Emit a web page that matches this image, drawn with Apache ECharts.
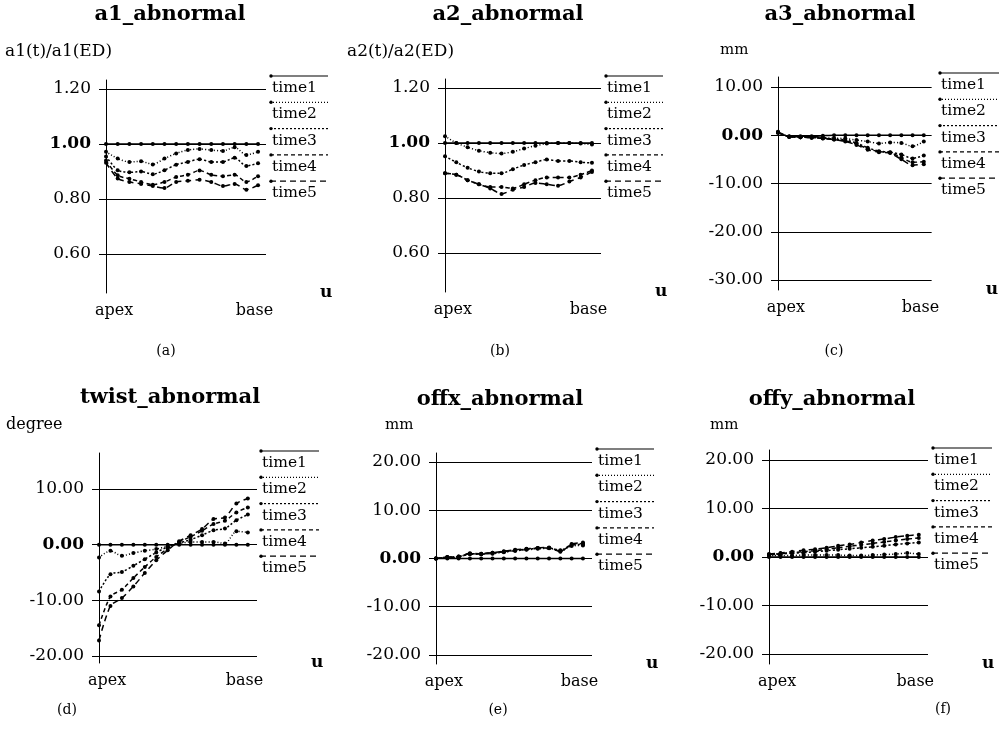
<!DOCTYPE html>
<html>
<head>
<meta charset="utf-8">
<title>abnormal</title>
<script src="https://cdn.jsdelivr.net/npm/echarts@6/dist/echarts.min.js"></script>
<style>
    html, body { margin: 0; background: #fff; }
    #main { width: 999px; height: 731px; }
</style>
</head>
<body>
<div id="main"></div>
<script type="text/javascript">

    // position along the centre line, apex -> base
    var uIndex = [0, 1, 2, 3, 4, 5, 6, 7, 8, 9, 10, 11, 12, 13];
    var timeNames = ['time1', 'time2', 'time3', 'time4', 'time5'];
    var xLabels = ['apex', 'base'];

    // tick labels
    var ratioTicks = [0.60, 0.80, 1.00, 1.20];
    var a3Ticks = [-30, -20, -10, 0, 10];
    var twistTicks = [-20, -10, 0, 10];
    var offTicks = [-20, -10, 0, 10, 20];

    // values (time1 .. time5)
    var a1Values = [
        [1.00, 1.00, 1.00, 1.00, 1.00, 1.00, 1.00, 1.00, 1.00, 1.00, 1.00, 1.00, 1.00, 1.00],
        [0.972, 0.947, 0.935, 0.937, 0.926, 0.947, 0.966, 0.978, 0.982, 0.978, 0.975, 0.988, 0.960, 0.972],
        [0.955, 0.905, 0.897, 0.900, 0.890, 0.905, 0.925, 0.935, 0.945, 0.935, 0.935, 0.950, 0.920, 0.930],
        [0.940, 0.886, 0.874, 0.862, 0.852, 0.862, 0.880, 0.888, 0.904, 0.888, 0.883, 0.888, 0.862, 0.883],
        [0.932, 0.875, 0.862, 0.855, 0.847, 0.840, 0.862, 0.866, 0.870, 0.862, 0.847, 0.855, 0.834, 0.850]
    ];
    var a2Values = [
        [1.00, 1.00, 1.00, 1.00, 1.00, 1.00, 1.00, 1.00, 1.00, 1.00, 1.00, 1.00, 1.00, 1.00],
        [1.025, 1.000, 0.985, 0.972, 0.965, 0.962, 0.968, 0.980, 0.990, 0.998, 1.000, 1.000, 0.998, 0.995],
        [0.952, 0.930, 0.910, 0.896, 0.890, 0.890, 0.905, 0.920, 0.930, 0.940, 0.935, 0.935, 0.930, 0.928],
        [0.890, 0.885, 0.865, 0.850, 0.840, 0.840, 0.835, 0.850, 0.865, 0.875, 0.875, 0.875, 0.885, 0.900],
        [0.890, 0.885, 0.865, 0.850, 0.835, 0.815, 0.830, 0.840, 0.855, 0.850, 0.845, 0.860, 0.875, 0.895]
    ];
    var a3Values = [
        [0.5, -0.2, -0.2, -0.2, -0.1, 0, 0, 0, 0, 0, 0, 0, 0, 0],
        [0.5, -0.3, -0.4, -0.4, -0.5, -0.6, -0.7, -1.0, -1.3, -1.7, -1.5, -1.6, -2.3, -1.3],
        [0.6, -0.3, -0.4, -0.4, -0.6, -0.8, -1.0, -1.6, -2.6, -3.3, -3.5, -4.0, -4.8, -4.2],
        [0.6, -0.3, -0.4, -0.5, -0.6, -0.9, -1.2, -1.8, -2.8, -3.4, -3.6, -4.6, -5.6, -5.5],
        [0.7, -0.3, -0.4, -0.5, -0.7, -0.9, -1.3, -2.0, -3.0, -3.5, -3.7, -5.0, -6.2, -6.0]
    ];
    var twistValues = [
        [0, 0, 0, 0, 0, 0, 0, 0, 0, 0, 0, 0, 0, 0],
        [-2.3, -1.1, -2.0, -1.5, -1.1, -0.8, -0.3, 0.2, 0.5, 0.5, 0.5, 0.2, 2.4, 2.2],
        [-8.4, -5.3, -4.9, -3.8, -2.6, -1.4, -0.4, 0.3, 0.9, 1.7, 2.6, 2.9, 4.4, 5.4],
        [-14.5, -9.3, -8.1, -6.0, -4.0, -2.2, -0.7, 0.5, 1.4, 2.5, 3.7, 4.3, 5.8, 6.7],
        [-17.2, -11.0, -9.6, -7.5, -5.1, -2.8, -1.0, 0.6, 1.7, 2.8, 4.6, 4.9, 7.4, 8.3]
    ];
    var offxValues = [
        [0, 0, 0, 0, 0, 0, 0, 0, 0, 0, 0, 0, 0, 0],
        [0, 0.2, 0.3, 1.0, 0.9, 1.0, 1.3, 1.6, 1.8, 2.0, 2.1, 1.6, 2.6, 2.7],
        [0, 0.2, 0.3, 0.9, 0.9, 1.1, 1.4, 1.6, 1.9, 2.1, 2.2, 1.7, 2.8, 2.9],
        [0, 0.3, 0.4, 1.0, 1.0, 1.2, 1.4, 1.7, 1.9, 2.2, 2.3, 1.5, 2.9, 3.1],
        [0, 0.3, 0.4, 1.1, 1.0, 1.2, 1.5, 1.8, 2.0, 2.2, 2.2, 1.4, 3.0, 3.3]
    ];
    var offyValues = [
        [0, 0, 0, 0, 0, 0, 0, 0, 0, 0, 0, 0, 0, 0],
        [0.3, 0.3, 0.3, 0.4, 0.4, 0.4, 0.4, 0.3, 0.3, 0.4, 0.5, 0.6, 0.8, 0.6],
        [0.4, 0.6, 0.8, 0.9, 1.1, 1.3, 1.5, 1.7, 1.9, 2.1, 2.3, 2.6, 2.8, 3.0],
        [0.5, 0.7, 0.9, 1.1, 1.3, 1.6, 1.9, 2.2, 2.5, 2.8, 3.1, 3.4, 3.7, 3.9],
        [0.6, 0.8, 1.1, 1.4, 1.6, 1.9, 2.3, 2.6, 3.0, 3.4, 3.7, 4.1, 4.4, 4.6]
    ];

    var FONT = 'DejaVu Serif';
    var dashes = ['solid', [1, 2], [2, 2], [4, 3], [6, 4]];

    // 面板布局
    var panels = [
        {title: 'a1_abnormal', yName: 'a1(t)/a1(ED)', letter: '(a)', values: a1Values, ticks: ratioTicks, bold: 1,
            grid: {left: 106, top: 80, width: 160, height: 213}, yMin: 0.458, yMax: 1.233, xMax: 13.68,
            tx: 170, ty: 15, nx: 5, ny: 52, ns: 17, lx: 166, ly: 351, gx0: 270, gx1: 328, gy: 76},
        {title: 'a2_abnormal', yName: 'a2(t)/a2(ED)', letter: '(b)', values: a2Values, ticks: ratioTicks, bold: 1,
            grid: {left: 445, top: 79, width: 156, height: 213}, yMin: 0.458, yMax: 1.233, xMax: 13.8,
            tx: 508, ty: 15, nx: 347, ny: 52, ns: 17, lx: 500, ly: 351, gx0: 605, gx1: 663, gy: 76},
        {title: 'a3_abnormal', yName: 'mm', letter: '(c)', values: a3Values, ticks: a3Ticks, bold: 0,
            grid: {left: 778, top: 77, width: 159, height: 213}, yMin: -32.07, yMax: 12.07, xMax: 13.7,
            tx: 840, ty: 15, nx: 720, ny: 50, ns: 15, lx: 834, ly: 351, gx0: 939, gx1: 999, gy: 73},
        {title: 'twist_abnormal', yName: 'degree', letter: '(d)', values: twistValues, ticks: twistTicks, bold: 0,
            grid: {left: 99, top: 453, width: 158, height: 210}, yMin: -21.26, yMax: 16.47, xMax: 13.8,
            tx: 170, ty: 398, nx: 6, ny: 425, ns: 16, lx: 67, ly: 710, gx0: 260, gx1: 319, gy: 451},
        {title: 'offx_abnormal', yName: 'mm', letter: '(e)', values: offxValues, ticks: offTicks, bold: 0,
            grid: {left: 436, top: 453, width: 156, height: 211}, yMin: -21.87, yMax: 21.87, xMax: 13.8,
            tx: 500, ty: 400, nx: 385, ny: 425, ns: 15, lx: 498, ly: 710, gx0: 596, gx1: 654, gy: 449},
        {title: 'offy_abnormal', yName: 'mm', letter: '(f)', values: offyValues, ticks: offTicks, bold: 0,
            grid: {left: 769, top: 450, width: 159, height: 214}, yMin: -22.06, yMax: 22.06, xMax: 13.8,
            tx: 832, ty: 400, nx: 710, ny: 425, ns: 15, lx: 943, ly: 709, gx0: 932, gx1: 992, gy: 448}
    ];

    var grids = [], xAxes = [], yAxes = [], series = [], graphics = [];

    panels.forEach(function (p, i) {
        grids.push(p.grid);
        xAxes.push({
            type: 'value', gridIndex: i, min: 0, max: p.xMax,
            axisLine: {show: false, onZero: false},
            axisTick: {show: false},
            splitLine: {show: false},
            axisLabel: {
                customValues: [0.7, 12.7], margin: 10, color: '#000',
                fontFamily: FONT, fontSize: 16,
                formatter: function (v) { return v < 6 ? xLabels[0] : xLabels[1]; }
            },
            name: 'u', nameLocation: 'end', nameGap: 54,
            nameTextStyle: {color: '#000', fontFamily: FONT, fontSize: 17, fontWeight: 'bold', padding: [8, 0, 0, 0]}
        });
        yAxes.push({
            type: 'value', gridIndex: i, min: p.yMin, max: p.yMax,
            axisLine: {show: true, onZero: false, lineStyle: {color: '#000', width: 1}},
            axisTick: {show: true, length: 7, customValues: p.ticks, lineStyle: {color: '#000', width: 1}},
            splitLine: {show: true, lineStyle: {color: '#000', width: 1}},
            axisLabel: {
                customValues: p.ticks, margin: 15, color: '#000', fontFamily: FONT, fontSize: 17,
                formatter: function (v) {
                    var s = v.toFixed(2);
                    return v === p.bold ? '{b|' + s + '}' : s;
                },
                rich: {b: {fontFamily: FONT, fontSize: 17, fontWeight: 'bold', color: '#000'}}
            }
        });

        p.values.forEach(function (vals, s) {
            series.push({
                name: timeNames[s], type: 'line', xAxisIndex: i, yAxisIndex: i,
                data: vals.map(function (v, k) { return [uIndex[k], v]; }),
                smooth: 0.25, symbol: 'circle', symbolSize: 4, showSymbol: true,
                itemStyle: {color: '#000'},
                lineStyle: {color: '#000', width: 1.5, type: dashes[s]},
                silent: true, z: 3
            });

            // 图例
            var y = p.gy + s * 26.3;
            graphics.push({
                type: 'line', silent: true,
                shape: {x1: p.gx0, y1: y, x2: p.gx1, y2: y},
                style: {stroke: '#000', lineWidth: 1.2, lineDash: s === 0 ? null : dashes[s]}
            });
            graphics.push({
                type: 'circle', silent: true,
                shape: {cx: p.gx0 + 1, cy: y, r: 1.7},
                style: {fill: '#000'}
            });
            graphics.push({
                type: 'text', silent: true,
                style: {x: p.gx0 + 2, y: y + 12, text: timeNames[s], fill: '#000',
                    font: '15.5px "' + FONT + '"', textAlign: 'left', textVerticalAlign: 'middle'}
            });
        });

        graphics.push({
            type: 'text', silent: true,
            style: {x: p.tx, y: p.ty, text: p.title, fill: '#000',
                font: 'bold 21px "' + FONT + '"', textAlign: 'center', textVerticalAlign: 'middle'}
        });
        graphics.push({
            type: 'text', silent: true,
            style: {x: p.nx, y: p.ny, text: p.yName, fill: '#000',
                font: p.ns + 'px "' + FONT + '"', textAlign: 'left', textVerticalAlign: 'middle'}
        });
        graphics.push({
            type: 'text', silent: true,
            style: {x: p.lx, y: p.ly, text: p.letter, fill: '#000',
                font: '14px "' + FONT + '"', textAlign: 'center', textVerticalAlign: 'middle'}
        });
    });

    var myChart = echarts.init(document.getElementById('main'));
    myChart.setOption({
        backgroundColor: '#fff',
        animation: false,
        grid: grids,
        xAxis: xAxes,
        yAxis: yAxes,
        series: series,
        graphic: graphics
    });

</script>
</body>
</html>
